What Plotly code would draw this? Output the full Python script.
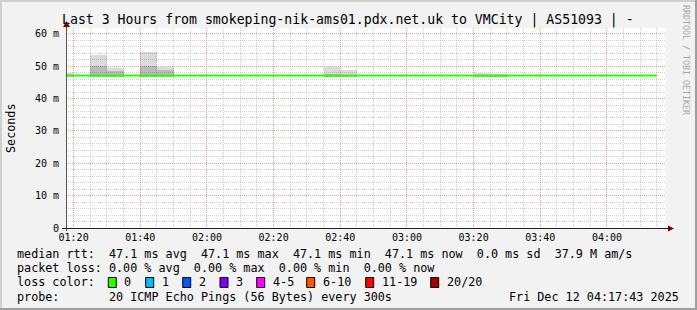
import plotly.graph_objects as go
import pandas as pd

# ---------------- data ----------------
DAY = "2025-12-12 "
x_start = DAY + "01:17:43"
x_end = DAY + "04:17:43"

x_tick_labels = ["01:20", "01:40", "02:00", "02:20", "02:40", "03:00", "03:20", "03:40", "04:00"]
y_tick_values = [0, 10, 20, 30, 40, 50, 60]
y_tick_labels = ["0", "10 m", "20 m", "30 m", "40 m", "50 m", "60 m"]

# median rtt (ms), one value per 5-minute step (step end times)
median_times = ["01:15", "01:20", "01:25", "01:30", "01:35", "01:40", "01:45", "01:50", "01:55",
                "02:00", "02:05", "02:10", "02:15", "02:20", "02:25", "02:30", "02:35", "02:40",
                "02:45", "02:50", "02:55", "03:00", "03:05", "03:10", "03:15", "03:20", "03:25",
                "03:30", "03:35", "03:40", "03:45", "03:50", "03:55", "04:00", "04:05", "04:10",
                "04:15"]
median_rtt = [47.1, 47.1, 47.1, 47.1, 47.1, 47.1, 47.1, 47.1, 47.1,
              47.1, 47.1, 47.1, 47.1, 47.1, 47.1, 47.1, 47.1, 47.1,
              47.1, 47.1, 47.1, 47.1, 47.1, 47.1, 47.1, 47.1, 47.1,
              47.1, 47.1, 47.1, 47.1, 47.1, 47.1, 47.1, 47.1, 47.1,
              47.1]

# smoke (ping spread) per step: step end time, min, inner band top, max (ms)
smoke_end = ["01:20", "01:30", "01:35", "01:45", "01:50", "02:40", "02:45", "03:25", "03:30"]
smoke_min = [46.8, 46.8, 46.8, 46.8, 46.8, 46.8, 46.8, 46.8, 46.8]
smoke_mid = [47.3, 50.0, 48.6, 50.0, 48.8, 47.6, 47.4, 47.4, 47.2]
smoke_max = [47.8, 53.4, 49.4, 54.4, 49.7, 49.7, 48.7, 48.0, 47.5]

loss_labels = ["0", "1", "2", "3", "4-5", "6-10", "11-19", "20/20"]
loss_colors = ["#26ff00", "#00b8ff", "#0059ff", "#7e00ff", "#ff00ff", "#ff5500", "#ff0000", "#a10000"]

legend_rows = [
    "median rtt:  47.1 ms avg  47.1 ms max  47.1 ms min  47.1 ms now  0.0 ms sd  37.9 M am/s",
    "packet loss: 0.00 % avg  0.00 % max  0.00 % min  0.00 % now",
    "loss color:",
    "probe:       20 ICMP Echo Pings (56 Bytes) every 300s",
]
timestamp_text = "Fri Dec 12 04:17:43 2025"
title_text = "Last 3 Hours from smokeping-nik-ams01.pdx.net.uk to VMCity | AS51093 | -"

# ---------------- layout geometry ----------------
W, H = 697, 310
PL, PR, PT, PB = 66, 666, 28, 228  # plot area in pixels
MONO = "DejaVu Sans Mono"


def fx(px):
    return (px - PL) / (PR - PL)


def fy(py):
    return (PB - py) / (PB - PT)


def nb(s):
    return s.replace(" ", "\u00a0")


step = pd.Timedelta(seconds=300)
med_x = pd.to_datetime([DAY + t for t in median_times])
smoke_ends = pd.to_datetime([DAY + t for t in smoke_end])
smoke_centers = smoke_ends - step / 2

fig = go.Figure()

# smoke: inner darker band and outer lighter band
fig.add_trace(go.Bar(
    x=smoke_centers, base=smoke_min,
    y=[m - n for m, n in zip(smoke_mid, smoke_min)],
    width=300000, marker=dict(color="rgba(0,0,0,0.27)", line=dict(width=0)),
    hoverinfo="skip", showlegend=False))
fig.add_trace(go.Bar(
    x=smoke_centers, base=smoke_mid,
    y=[m - n for m, n in zip(smoke_max, smoke_mid)],
    width=300000, marker=dict(color="rgba(0,0,0,0.14)", line=dict(width=0)),
    hoverinfo="skip", showlegend=False))

# median line
fig.add_trace(go.Scatter(
    x=med_x, y=median_rtt, mode="lines",
    line=dict(color="#26ff00", width=2, shape="hv"),
    hoverinfo="skip", showlegend=False))

fig.update_layout(
    width=W, height=H,
    margin=dict(l=PL, r=W - PR, t=PT, b=H - PB, pad=0),
    paper_bgcolor="#f2f2f2", plot_bgcolor="#ffffff",
    barmode="overlay", bargap=0,
    font=dict(family=MONO, color="#000000"),
    showlegend=False,
)

fig.update_xaxes(
    type="date", range=[x_start, x_end],
    tickmode="array",
    tickvals=[DAY + t for t in x_tick_labels],
    ticktext=x_tick_labels,
    tickfont=dict(family=MONO, size=10, color="#000000"),
    ticks="", ticklabelstandoff=2,
    showgrid=True, gridcolor="rgba(245,128,128,0.55)", gridwidth=1, griddash="1px,1px",
    minor=dict(dtick=300000, tick0=DAY + "01:20", showgrid=True,
               gridcolor="rgba(143,143,143,0.42)", gridwidth=1, griddash="1px,1px", ticks=""),
    showline=False, zeroline=False, fixedrange=True,
)
fig.update_yaxes(
    range=[0, 61.8],
    tickmode="array", tickvals=y_tick_values, ticktext=y_tick_labels,
    tickfont=dict(family=MONO, size=10, color="#000000"),
    ticks="", ticklabelstandoff=6,
    showgrid=True, gridcolor="rgba(245,128,128,0.55)", gridwidth=1, griddash="1px,1px",
    minor=dict(dtick=2, tick0=0, showgrid=True,
               gridcolor="rgba(143,143,143,0.42)", gridwidth=1, griddash="1px,1px", ticks=""),
    showline=False, zeroline=False, fixedrange=True,
)

shapes = []
# frame shading
shapes.append(dict(type="rect", xref="paper", yref="paper", x0=fx(0), x1=fx(W), y0=fy(0), y1=fy(2),
                   fillcolor="#cfcfcf", line=dict(width=0)))
shapes.append(dict(type="rect", xref="paper", yref="paper", x0=fx(0), x1=fx(2), y0=fy(0), y1=fy(H),
                   fillcolor="#cfcfcf", line=dict(width=0)))
shapes.append(dict(type="rect", xref="paper", yref="paper", x0=fx(0), x1=fx(W), y0=fy(H - 2), y1=fy(H),
                   fillcolor="#9e9e9e", line=dict(width=0)))
shapes.append(dict(type="rect", xref="paper", yref="paper", x0=fx(W - 2), x1=fx(W), y0=fy(0), y1=fy(H),
                   fillcolor="#9e9e9e", line=dict(width=0)))
# axes
shapes.append(dict(type="line", xref="paper", yref="paper", x0=fx(66.5), x1=fx(66.5), y0=fy(231), y1=fy(25),
                   line=dict(color="#555555", width=1)))
shapes.append(dict(type="line", xref="paper", yref="paper", x0=fx(62), x1=fx(669), y0=fy(228.5), y1=fy(228.5),
                   line=dict(color="#212121", width=1)))
# arrows
shapes.append(dict(type="path", xref="paper", yref="paper",
                   path=f"M {fx(674)} {fy(228.5)} L {fx(668)} {fy(225.5)} L {fx(668)} {fy(231.5)} Z",
                   fillcolor="#800000", line=dict(width=0)))
shapes.append(dict(type="path", xref="paper", yref="paper",
                   path=f"M {fx(66.5)} {fy(21)} L {fx(63)} {fy(27)} L {fx(70)} {fy(27)} Z",
                   fillcolor="#800000", line=dict(width=0)))

# loss colour boxes
box_left = [108.3, 145.7, 182.7, 220.0, 256.7, 306.7, 365.7, 430.7]
for bx, col in zip(box_left, loss_colors):
    shapes.append(dict(type="rect", xref="paper", yref="paper",
                       x0=fx(bx), x1=fx(bx + 8), y0=fy(277.5), y1=fy(287.5),
                       fillcolor=col, line=dict(color="#000000", width=1)))
fig.update_layout(shapes=shapes)

ann = []
LEG = 11.75
ann.append(dict(text=nb(title_text), x=fx(59.5), y=fy(19.5), xref="paper", yref="paper",
                xanchor="left", yanchor="middle", showarrow=False,
                font=dict(family=MONO, size=13.2, color="#000000")))
ann.append(dict(text="Seconds", x=fx(11), y=fy(128), xref="paper", yref="paper",
                xanchor="center", yanchor="middle", textangle=-90, showarrow=False,
                font=dict(family=MONO, size=LEG, color="#000000")))
ann.append(dict(text=nb("RRDTOOL / TOBI OETIKER"), x=fx(686), y=fy(60), xref="paper", yref="paper",
                xanchor="center", yanchor="middle", textangle=90, showarrow=False,
                font=dict(family=MONO, size=8.3, color="#a8a8a8")))
row_y = [254.0, 268.2, 282.3, 296.5]
for txt, ry in zip(legend_rows, row_y):
    ann.append(dict(text=nb(txt), x=fx(15), y=fy(ry), xref="paper", yref="paper",
                    xanchor="left", yanchor="middle", showarrow=False,
                    font=dict(family=MONO, size=LEG, color="#000000")))
for bx, lab in zip(box_left, loss_labels):
    ann.append(dict(text=nb(lab), x=fx(bx + 14), y=fy(row_y[2]), xref="paper", yref="paper",
                    xanchor="left", yanchor="middle", showarrow=False,
                    font=dict(family=MONO, size=LEG, color="#000000")))
ann.append(dict(text=nb(timestamp_text), x=fx(681), y=fy(row_y[3]), xref="paper", yref="paper",
                xanchor="right", yanchor="middle", showarrow=False,
                font=dict(family=MONO, size=LEG, color="#000000")))
fig.update_layout(annotations=ann)

fig.write_html("out.html")
